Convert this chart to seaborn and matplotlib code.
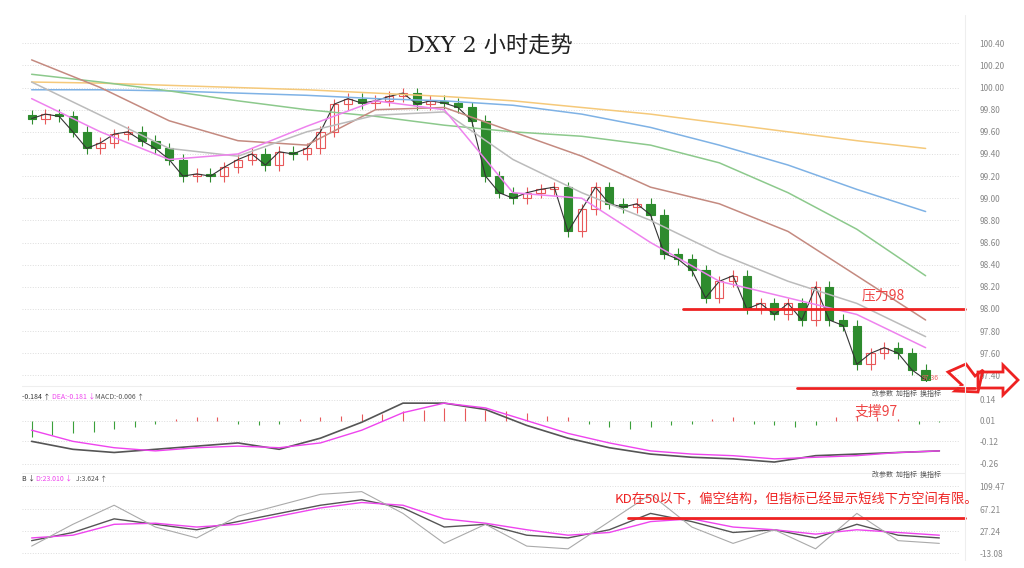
import numpy as np, pandas as pd
import matplotlib
matplotlib.use("Agg")
import matplotlib.pyplot as plt
import seaborn as sns
from matplotlib.patches import Polygon

sns.set_style("white")
plt.rcParams['font.family'] = ['Noto Sans CJK SC', 'DejaVu Sans']

# ---- price data (x in chart slots) ----
closes = [99.72,99.76,99.74,99.60,99.45,99.50,99.58,99.60,99.52,99.45,99.35,99.20,99.22,99.20,99.28,99.35,
          99.40,99.30,99.42,99.40,99.45,99.60,99.85,99.90,99.86,99.88,99.92,99.95,99.85,99.88,99.86,99.82,
          99.70,99.20,99.05,99.00,99.05,99.08,99.10,98.70,98.90,99.10,98.95,98.92,98.95,98.85,98.50,98.45,
          98.35,98.10,98.25,98.30,98.00,98.05,97.95,98.05,97.90,98.20,97.90,97.85,97.50,97.60,97.65,97.60,97.45,97.36]
ma_x = [0, 5, 10, 15, 20, 25, 30, 35, 40, 45, 50, 55, 60, 65]
ma_orange = [100.05,100.04,100.02,100.00,99.98,99.95,99.92,99.88,99.82,99.76,99.68,99.60,99.52,99.45]
ma_blue   = [99.98,99.98,99.97,99.95,99.93,99.90,99.88,99.84,99.76,99.64,99.48,99.30,99.08,98.88]
ma_green  = [100.12,100.05,99.97,99.88,99.80,99.74,99.66,99.60,99.56,99.48,99.32,99.05,98.72,98.30]
ma_brown  = [100.25,100.00,99.70,99.52,99.48,99.80,99.82,99.60,99.38,99.10,98.95,98.70,98.30,97.90]
ma_grey   = [100.05,99.75,99.45,99.38,99.60,99.75,99.78,99.35,99.05,98.80,98.50,98.25,98.05,97.75]
ma_pink   = [99.90,99.60,99.35,99.40,99.65,99.88,99.80,99.05,99.00,98.60,98.25,98.10,97.95,97.65]

# ---- MACD ----
m_x = list(range(0, 67, 3))
hist_x = [i * 1.5 for i in range(45)]
macd_hist = [-0.10,-0.09,-0.08,-0.07,-0.05,-0.04,-0.02,0.01,0.02,0.02,-0.02,-0.03,-0.02,0.01,0.02,0.03,
             0.04,0.04,0.06,0.07,0.08,0.08,0.07,0.06,0.05,0.03,0.02,-0.02,-0.04,-0.05,-0.04,-0.03,-0.02,
             0.01,0.02,-0.02,-0.03,-0.04,-0.03,0.02,0.03,0.02,0.01,-0.02,-0.01]
dif = [-0.12,-0.17,-0.19,-0.17,-0.15,-0.13,-0.17,-0.10,0.00,0.12,0.12,0.08,-0.02,-0.10,-0.16,-0.20,-0.22,-0.23,-0.25,-0.21,-0.20,-0.19,-0.18]
dea = [-0.05,-0.12,-0.16,-0.18,-0.16,-0.15,-0.16,-0.13,-0.05,0.06,0.12,0.09,0.01,-0.07,-0.13,-0.18,-0.20,-0.21,-0.23,-0.22,-0.21,-0.19,-0.18]

# ---- KD ----
k_x = list(range(0, 67, 3))
K = [10,25,50,40,30,45,60,75,85,70,35,40,20,15,30,60,45,25,30,15,40,20,15]
D = [15,20,40,42,35,40,55,70,80,75,50,42,30,20,25,45,50,35,30,22,30,25,20]
J = [0,40,75,35,15,55,75,95,100,60,5,40,0,-5,45,95,35,5,30,-5,60,10,5]

fig = plt.figure(figsize=(10.24, 5.68), dpi=100)
W, H = 1024, 568
def ax_at(x0, y0, x1, y1):
    return fig.add_axes([x0/W, 1-y1/H, (x1-x0)/W, (y1-y0)/H])

xmin, xmax = -0.7, 67.5
axp = ax_at(22, 30, 960, 382)
axm = ax_at(22, 392, 960, 470)
axk = ax_at(22, 478, 960, 557)

n = len(closes)
opens = [closes[0] + 0.03] + closes[:-1]
for i in range(n):
    o, c = opens[i], closes[i]
    col = '#e8585a' if c >= o else '#2e8b2e'
    axp.vlines(i, min(o, c) - 0.05, max(o, c) + 0.05, color=col, lw=0.8)
    axp.bar(i, max(abs(c - o), 0.01), bottom=min(o, c), width=0.6,
            color='white' if c >= o else col, edgecolor=col, lw=0.8)
sns.lineplot(x=list(range(n)), y=closes, ax=axp, color='#333333', lw=0.8)
for arr, c in [(ma_orange,'#f5c97a'),(ma_blue,'#7fb2e5'),(ma_green,'#8cc98c'),
               (ma_brown,'#c48a80'),(ma_grey,'#bbbbbb'),(ma_pink,'#ee82ee')]:
    sns.lineplot(x=ma_x, y=arr, ax=axp, color=c, lw=1.1)
axp.set_ylim(97.34, 100.52)
axp.set_yticks(np.arange(97.4, 100.41, 0.2))

cols = ['#e8585a' if v > 0 else '#3aa03a' for v in macd_hist]
axm.vlines(hist_x, 0.01, [0.01 + v for v in macd_hist], colors=cols, lw=0.8)
sns.lineplot(x=m_x, y=dif, ax=axm, color='#555555', lw=1.2)
sns.lineplot(x=m_x, y=dea, ax=axm, color='#ee44ee', lw=1.0)
axm.set_ylim(-0.30, 0.19)
axm.set_yticks([0.14, 0.01, -0.12, -0.26])

sns.lineplot(x=k_x, y=K, ax=axk, color='#555555', lw=1.0)
sns.lineplot(x=k_x, y=D, ax=axk, color='#ee44ee', lw=1.0)
sns.lineplot(x=k_x, y=J, ax=axk, color='#aaaaaa', lw=0.8)
axk.set_ylim(-20, 125)
axk.set_yticks([109.47, 67.21, 27.24, -13.08])

for a in (axp, axm, axk):
    a.set_xlim(xmin, xmax)
    a.set_xticks([])
    a.yaxis.tick_right()
    a.tick_params(axis='y', labelsize=6, colors='#888888', length=0, pad=14)
    a.grid(axis='y', color='#dddddd', ls=':', lw=0.7)
    for s in a.spines.values():
        s.set_visible(False)
    a.set_ylabel(''); a.set_xlabel('')
axp.set_yticklabels([f'{v:.2f}' for v in axp.get_yticks()])
axm.set_yticklabels(['0.14', '0.01', '-0.12', '-0.26'])
axk.set_yticklabels(['109.47', '67.21', '27.24', '-13.08'])

ov = fig.add_axes([0, 0, 1, 1]); ov.set_xlim(0, W); ov.set_ylim(H, 0); ov.axis('off')
ov.text(490, 47, 'DXY 2 小时走势', fontsize=16, ha='center', va='center', color='#222222',
        family=['DejaVu Serif', 'Noto Sans CJK SC'])
ov.plot([683, 965], [309, 309], color='#ee2222', lw=2)
ov.plot([797, 975], [388, 388], color='#ee2222', lw=2)
ov.plot([628, 965], [518, 518], color='#ee2222', lw=2)
ov.text(862, 295, '压力98', color='#ee4444', fontsize=10, va='center')
ov.text(855, 412, '支撑97', color='#ee4444', fontsize=10, va='center')
ov.text(615, 500, 'KD在50以下，偏空结构，但指标已经显示短线下方空间有限。', color='#ee2222', fontsize=9.5, va='center')
ov.text(922, 378, '97.36', color='#ee6666', fontsize=5, va='center')
ov.add_patch(Polygon([[948, 372], [966, 364], [975, 376], [983, 370], [978, 392], [955, 391], [962, 385]],
                     closed=True, fill=False, edgecolor='#ee2222', lw=2))
ov.add_patch(Polygon([[978, 372], [1003, 372], [1003, 365], [1018, 380], [1003, 395], [1003, 388], [978, 388]],
                     closed=True, fill=False, edgecolor='#ee2222', lw=2))
ov.text(22, 397, '-0.184 ↑', fontsize=5, va='center', color='#333333')
ov.text(52, 397, 'DEA:-0.181 ↓', fontsize=5, va='center', color='#ee44ee')
ov.text(95, 397, 'MACD:-0.006 ↑', fontsize=5, va='center', color='#555555')
ov.text(22, 479, 'B ↓', fontsize=5, va='center', color='#333333')
ov.text(36, 479, 'D:23.010 ↓', fontsize=5, va='center', color='#ee44ee')
ov.text(76, 479, 'J:3.624 ↑', fontsize=5, va='center', color='#555555')
for y in (394, 475):
    ov.text(872, y, '改参数  加指标  换指标', fontsize=5, va='center', color='#555555')
ov.plot([965, 965], [15, 560], color='#eeeeee', lw=0.8)
ov.plot([22, 965], [386, 386], color='#eeeeee', lw=0.8)
ov.plot([22, 965], [473, 473], color='#eeeeee', lw=0.8)

fig.savefig('out.png', dpi=100)
